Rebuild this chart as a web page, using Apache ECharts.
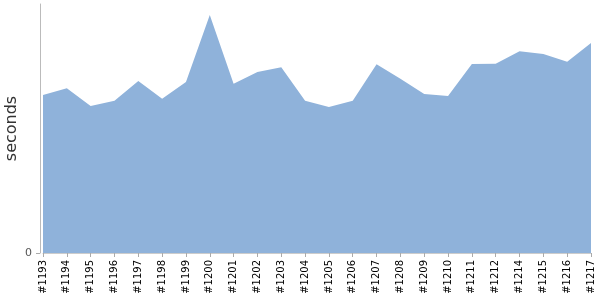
<!DOCTYPE html>
<html>
<head>
<meta charset="utf-8">
<script src="https://cdn.jsdelivr.net/npm/echarts@6/dist/echarts.min.js"></script>
<style>html,body{margin:0;padding:0;background:#fff}#c{width:600px;height:300px}</style>
</head>
<body>
<div id="c"></div>
<script>
const categories = ['#1193','#1194','#1195','#1196','#1197','#1198','#1199','#1200','#1201','#1202','#1203','#1204','#1205','#1206','#1207','#1208','#1209','#1210','#1211','#1212','#1214','#1215','#1216','#1217'];
const seconds = [158,164.7,147,152.3,172,154.3,171,238,169.3,181,185.7,152.3,146,152.3,188.7,174.3,159,157,189,189.3,201.7,199,191.3,210];
const yMax = 249;

const chart = echarts.init(document.getElementById('c'));
chart.setOption({
  animation: false,
  grid: { left: 43, right: 9, top: 4, bottom: 47, containLabel: false, outerBoundsMode: 'none' },
  xAxis: {
    type: 'category',
    data: categories,
    boundaryGap: false,
    axisLine: { lineStyle: { color: '#ccc', width: 1 } },
    axisTick: { show: true, length: 4, lineStyle: { color: '#aaa' } },
    axisLabel: { rotate: 90, interval: 0, fontSize: 10, color: '#000', fontFamily: 'DejaVu Sans', margin: 7 }
  },
  yAxis: {
    type: 'value',
    min: 0, max: yMax, interval: yMax,
    offset: 3,
    name: 'seconds',
    nameLocation: 'middle',
    nameGap: 20,
    nameMoveOverlap: false,
    nameTextStyle: { fontSize: 16, color: '#333', fontFamily: 'DejaVu Sans' },
    axisLine: { show: true, lineStyle: { color: '#bbb', width: 1 } },
    axisTick: { show: true, length: 4, customValues: [0], lineStyle: { color: '#aaa' } },
    splitLine: { show: false },
    axisLabel: { fontSize: 11, color: '#555', fontFamily: 'DejaVu Sans', margin: 8, customValues: [0],
      formatter: v => v === 0 ? '0' : '' }
  },
  series: [{
    type: 'line',
    data: seconds,
    symbol: 'none',
    lineStyle: { width: 0, color: '#8fb2da' },
    itemStyle: { color: '#8fb2da' },
    areaStyle: { color: '#8fb2da', opacity: 1 }
  }]
});
</script>
</body>
</html>
